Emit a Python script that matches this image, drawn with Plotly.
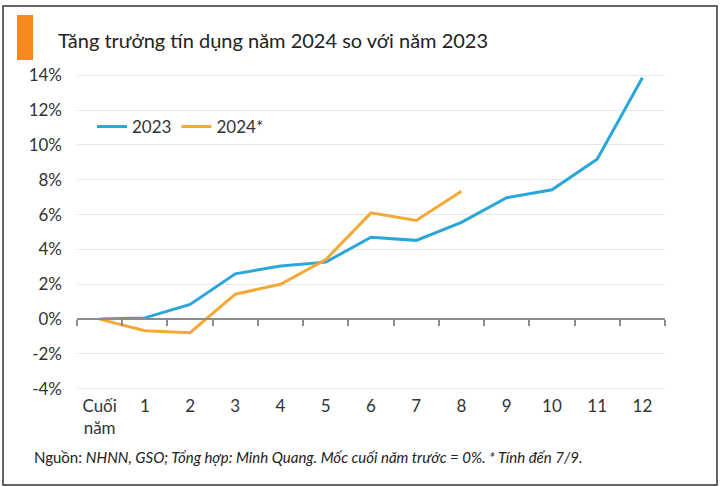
import plotly.graph_objects as go

categories = ["Cuối<br>năm", "1", "2", "3", "4", "5", "6", "7", "8", "9", "10", "11", "12"]
growth_2023 = [0, 0.07, 0.84, 2.6, 3.05, 3.27, 4.7, 4.52, 5.55, 6.97, 7.42, 9.18, 13.85]
growth_2024 = [0, -0.67, -0.78, 1.43, 2.0, 3.42, 6.1, 5.66, 7.34]
y_ticks = [-4, -2, 0, 2, 4, 6, 8, 10, 12, 14]
y_tick_labels = [f"{v}%" for v in y_ticks]

W, H = 721, 487
ML, MR, MT, MB = 77, 56, 70, 93
PW, PH = W - ML - MR, H - MT - MB
Y_RANGE = [-4.3, 14.3]

def px(x):
    return (x - ML) / PW

def py(y):
    return (H - MB - y) / PH

BLUE = "#2BA6DB"
ORANGE = "#F5A834"
TXT = "#333333"
FONT = "Lato"

fig = go.Figure()
fig.add_trace(go.Scatter(x=categories, y=growth_2023, name="2023", mode="lines",
                         line=dict(color=BLUE, width=3)))
fig.add_trace(go.Scatter(x=categories[:len(growth_2024)], y=growth_2024, name="2024*",
                         mode="lines", line=dict(color=ORANGE, width=3)))
# helper trace for the zero-line axis
fig.add_trace(go.Scatter(x=categories, y=[None] * len(categories), xaxis="x2",
                         showlegend=False, hoverinfo="skip", mode="lines"))

zero_pos = (0 - Y_RANGE[0]) / (Y_RANGE[1] - Y_RANGE[0])

fig.update_layout(
    width=W, height=H,
    margin=dict(l=ML, r=MR, t=MT, b=MB),
    paper_bgcolor="white", plot_bgcolor="white",
    font=dict(family=FONT, color=TXT, size=17),
    showlegend=True,
    legend=dict(orientation="h", x=px(92), y=py(127), xanchor="left", yanchor="middle",
                bgcolor="rgba(0,0,0,0)", font=dict(size=17, color=TXT), itemwidth=30,
                tracegroupgap=0),
    xaxis=dict(type="category", categoryorder="array", categoryarray=categories,
               range=[-0.5, len(categories) - 0.5], showgrid=False, showline=False,
               ticks="", tickfont=dict(size=17, color=TXT), zeroline=False,
               fixedrange=True),
    xaxis2=dict(type="category", categoryorder="array", categoryarray=categories,
                range=[-0.5, len(categories) - 0.5], overlaying="x", anchor="free",
                position=zero_pos, showline=True, linecolor="#8c8c8c", linewidth=1.5,
                ticks="outside", ticklen=6, tickcolor="#8c8c8c", tickwidth=1.5,
                tickson="boundaries", showticklabels=False, showgrid=False,
                zeroline=False),
    yaxis=dict(range=Y_RANGE, tickvals=y_ticks, ticktext=y_tick_labels,
               showgrid=True, gridcolor="#e8e8e8", gridwidth=1, zeroline=False,
               showline=False, ticks="", ticklabelstandoff=14,
               tickfont=dict(size=17, color=TXT)),
)

# white box behind legend (covers gridlines)
fig.add_shape(type="rect", xref="paper", yref="paper", x0=px(87), x1=px(280),
              y0=py(100), y1=py(154), fillcolor="white", line=dict(width=0),
              layer="between")
# orange title marker
fig.add_shape(type="rect", xref="paper", yref="paper", x0=px(17), x1=px(33),
              y0=py(60), y1=py(15), fillcolor="#F58A1F", line=dict(width=0))
# frame
fig.add_shape(type="rect", xref="paper", yref="paper", x0=px(3), x1=px(717),
              y0=py(485), y1=py(6), line=dict(color="#333333", width=1.5),
              fillcolor="rgba(0,0,0,0)")

fig.add_annotation(text="Tăng trưởng tín dụng năm 2024 so với năm 2023",
                   xref="paper", yref="paper", x=px(56), y=py(40),
                   xanchor="left", yanchor="middle", showarrow=False,
                   font=dict(family=FONT, size=20, color="#222222"))
fig.add_annotation(text="Nguồn: <i>NHNN, GSO; Tổng hợp: Minh Quang. Mốc cuối năm trước = 0%. * Tính đến 7/9.</i>",
                   xref="paper", yref="paper", x=px(32), y=py(457),
                   xanchor="left", yanchor="middle", showarrow=False,
                   font=dict(family=FONT, size=15, color="#222222"))

fig.write_html("out.html")
